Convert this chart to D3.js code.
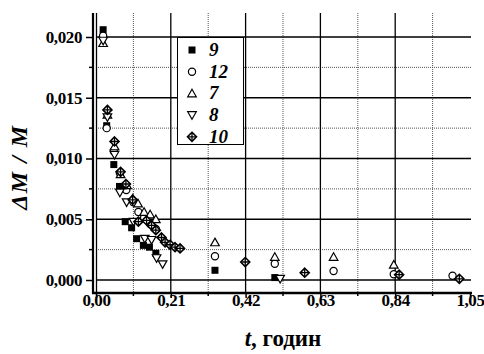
<!DOCTYPE html>
<html>
<head>
<meta charset="utf-8">
<script src="https://cdn.jsdelivr.net/npm/d3@7"></script>
<style>
	body { margin: 0; background: #fff; }
</style>
</head>
<body>
<div id="chart"></div>
<script>
// series data (t, годин ; ΔM/M)
const s9 = [[0.020, 0.0206], [0.030, 0.0127], [0.050, 0.0095], [0.066, 0.0077], [0.082, 0.0048],
	[0.100, 0.0043], [0.114, 0.0034], [0.133, 0.00285], [0.150, 0.0027], [0.168, 0.0022],
	[0.334, 0.0008], [0.502, 0.0002]];
const s12 = [[0.020, 0.0201], [0.030, 0.0125], [0.050, 0.0106], [0.067, 0.0088], [0.085, 0.0074],
	[0.105, 0.0064], [0.119, 0.0056], [0.135, 0.0051], [0.152, 0.0046], [0.168, 0.0042],
	[0.334, 0.00195], [0.502, 0.00134], [0.667, 0.00074], [0.836, 0.00047], [1.001, 0.00035]];
const s7 = [[0.020, 0.0195], [0.032, 0.0136], [0.052, 0.0110], [0.069, 0.0087], [0.087, 0.0078],
	[0.103, 0.0067], [0.118, 0.0063], [0.135, 0.0056], [0.152, 0.0054], [0.168, 0.0050],
	[0.334, 0.0031], [0.502, 0.0019], [0.667, 0.0019], [0.836, 0.00126]];
const s8 = [[0.020, 0.0197], [0.032, 0.0134], [0.052, 0.0103], [0.067, 0.0072], [0.086, 0.0064],
	[0.105, 0.0048], [0.137, 0.0034], [0.156, 0.0033], [0.170, 0.0018], [0.187, 0.0013],
	[0.517, 0.0001]];
const s10 = [[0.032, 0.0140], [0.052, 0.0114], [0.069, 0.0089], [0.084, 0.0079], [0.103, 0.0066],
	[0.119, 0.0048], [0.142, 0.0049], [0.156, 0.0045], [0.168, 0.0041], [0.184, 0.0035],
	[0.194, 0.0031], [0.208, 0.0029], [0.222, 0.0027], [0.236, 0.0026],
	[0.419, 0.00148], [0.586, 0.0006], [0.851, 0.00044], [1.020, 0.0001]];

const seriesNames = ["9", "12", "7", "8", "10"];
const seriesSymbols = ["square", "circle", "up", "down", "diamond"];
const xTicks = [0, 0.21, 0.42, 0.63, 0.84, 1.05];
const xMinor = [0.105, 0.315, 0.525, 0.735, 0.945];
const yTicks = [0, 0.005, 0.010, 0.015, 0.020];
const yMinor = [0.0025, 0.0075, 0.0125, 0.0175];

const allSeries = [s9, s12, s7, s8, s10];
const FONT = "Liberation Serif";

const W = 484, H = 354;
const svg = d3.select("#chart").append("svg")
	.attr("width", W)
	.attr("height", H);

const xScale = d3.scaleLinear().domain([0, 1.05]).range([96, 470]);
const yScale = d3.scaleLinear().domain([0, 0.020]).range([280, 37]);
const plotTop = 13, plotBottom = 293, plotLeft = 93, plotRight = 471;

const fmt = (d, n) => d.toFixed(n).replace(".", ",");

// grid
const grid = svg.append("g");
grid.selectAll(".ymin").data(yMinor).enter().append("line")
	.attr("x1", 96).attr("x2", plotRight)
	.attr("y1", d => yScale(d)).attr("y2", d => yScale(d))
	.attr("stroke", "#555").attr("stroke-width", 1).attr("stroke-dasharray", "1,1");
grid.selectAll(".xmin").data(xMinor).enter().append("line")
	.attr("x1", d => xScale(d)).attr("x2", d => xScale(d))
	.attr("y1", plotTop).attr("y2", plotBottom)
	.attr("stroke", "#555").attr("stroke-width", 1).attr("stroke-dasharray", "1,1");
grid.selectAll(".ymaj").data(yTicks).enter().append("line")
	.attr("x1", 96).attr("x2", plotRight)
	.attr("y1", d => yScale(d)).attr("y2", d => yScale(d))
	.attr("stroke", "#000").attr("stroke-width", 1.3);
grid.selectAll(".xmaj").data(xTicks.slice(1, 5)).enter().append("line")
	.attr("x1", d => xScale(d)).attr("x2", d => xScale(d))
	.attr("y1", plotTop).attr("y2", plotBottom)
	.attr("stroke", "#000").attr("stroke-width", 1.3);

// axes
const xAxis = d3.axisBottom(xScale).tickValues(xTicks).tickSize(5).tickFormat(d => fmt(d, 2));
const gx = svg.append("g").attr("transform", `translate(0, ${plotBottom})`).call(xAxis);
gx.select(".domain").remove();
gx.selectAll(".tick line").attr("stroke-width", 1.5);
gx.selectAll(".tick text")
	.attr("dy", "0.3em")
	.style("font-family", FONT)
	.style("font-size", "17px").style("font-weight", "bold")
	.style("letter-spacing", "-0.4px");
svg.append("g").selectAll("line").data(xMinor).enter().append("line")
	.attr("x1", d => xScale(d)).attr("x2", d => xScale(d))
	.attr("y1", plotBottom).attr("y2", plotBottom + 3)
	.attr("stroke", "#000").attr("stroke-width", 1.5);

const yAxis = d3.axisLeft(yScale).tickValues(yTicks).tickSize(7).tickPadding(4).tickFormat(d => fmt(d, 3));
const gy = svg.append("g").attr("transform", `translate(${plotLeft}, 0)`).call(yAxis);
gy.select(".domain").remove();
gy.selectAll(".tick line").attr("stroke-width", 1.5);
gy.selectAll(".tick text")
	.style("font-family", FONT)
	.style("font-size", "17px").style("font-weight", "bold")
	.style("letter-spacing", "-0.4px");
svg.append("g").selectAll("line").data(yMinor).enter().append("line")
	.attr("x1", plotLeft - 4).attr("x2", plotLeft)
	.attr("y1", d => yScale(d)).attr("y2", d => yScale(d))
	.attr("stroke", "#000").attr("stroke-width", 1.5);

// frame: double left line, thick bottom
svg.append("line").attr("x1", plotLeft).attr("x2", plotLeft).attr("y1", plotTop).attr("y2", plotBottom + 1)
	.attr("stroke", "#000").attr("stroke-width", 2.2);
svg.append("line").attr("x1", 96.5).attr("x2", 96.5).attr("y1", plotTop).attr("y2", plotBottom)
	.attr("stroke", "#000").attr("stroke-width", 1.3);
svg.append("line").attr("x1", plotLeft - 1).attr("x2", plotRight + 1).attr("y1", plotBottom).attr("y2", plotBottom)
	.attr("stroke", "#000").attr("stroke-width", 2.5);

// symbols
function drawSymbol(g, type, x, y) {
	if (type === "square") {
		g.append("rect").attr("x", x - 3.5).attr("y", y - 3.5).attr("width", 7).attr("height", 7)
			.attr("fill", "#000");
	} else if (type === "circle") {
		g.append("circle").attr("cx", x).attr("cy", y).attr("r", 3.6)
			.attr("fill", "#fff").attr("stroke", "#000").attr("stroke-width", 1.2);
	} else if (type === "up") {
		g.append("path").attr("d", `M${x},${y - 4.2}L${x + 4.3},${y + 3.4}L${x - 4.3},${y + 3.4}Z`)
			.attr("fill", "#fff").attr("stroke", "#000").attr("stroke-width", 1.2);
	} else if (type === "down") {
		g.append("path").attr("d", `M${x},${y + 4.2}L${x + 4.3},${y - 3.4}L${x - 4.3},${y - 3.4}Z`)
			.attr("fill", "#fff").attr("stroke", "#000").attr("stroke-width", 1.2);
	} else {
		g.append("path").attr("d", `M${x},${y - 4.5}L${x + 4.5},${y}L${x},${y + 4.5}L${x - 4.5},${y}Z`)
			.attr("fill", "#fff").attr("stroke", "#000").attr("stroke-width", 1.6);
		g.append("path").attr("d", `M${x},${y - 4}V${y + 4}M${x - 4},${y}H${x + 4}`)
			.attr("stroke", "#000").attr("stroke-width", 1.3);
	}
}

const marks = svg.append("g");
allSeries.forEach((s, i) => {
	s.forEach(p => drawSymbol(marks, seriesSymbols[i], xScale(p[0]), yScale(p[1])));
});

// legend
const lg = svg.append("g");
lg.append("rect").attr("x", 177.5).attr("y", 37.5).attr("width", 66).attr("height", 107)
	.attr("fill", "#fff").attr("stroke", "#000").attr("stroke-width", 1);
seriesNames.forEach((name, i) => {
	const cy = 50 + i * 21.7;
	drawSymbol(lg, seriesSymbols[i], 192, cy);
	lg.append("text").attr("x", 209).attr("y", cy + 6)
		.style("font-family", FONT)
		.style("font-size", "19px").style("font-weight", "bold").style("font-style", "italic")
		.text(name);
});

// axis titles
svg.append("text")
	.attr("transform", "translate(27, 167) rotate(-90)")
	.attr("text-anchor", "middle")
	.style("font-family", FONT)
	.style("font-size", "24px").style("font-weight", "bold").style("font-style", "italic")
	.style("letter-spacing", "1.5px")
	.text("ΔM / M");

const xt = svg.append("text")
	.attr("x", 283).attr("y", 346)
	.attr("text-anchor", "middle")
	.style("font-family", FONT)
	.style("font-size", "23px").style("font-weight", "bold");
xt.append("tspan").style("font-style", "italic").text("t");
xt.append("tspan").text(", годин");
</script>
</body>
</html>
